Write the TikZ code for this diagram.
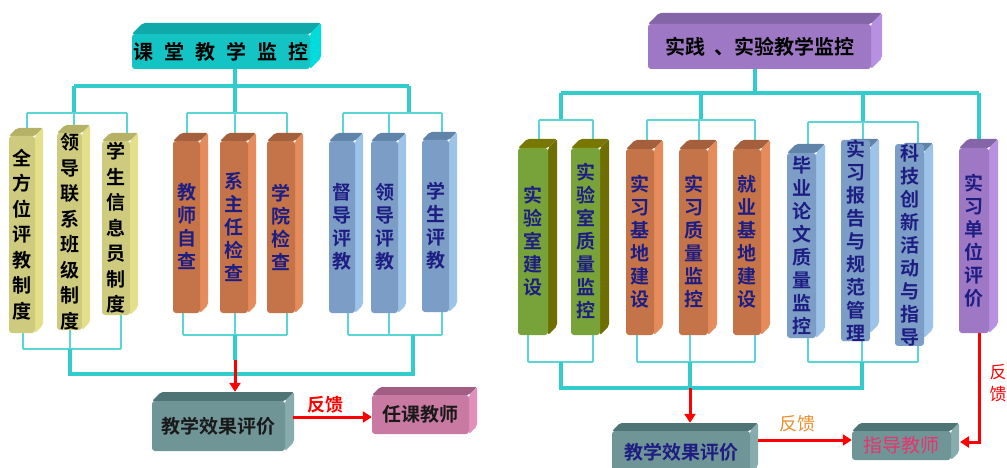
\documentclass[tikz,border=0pt]{standalone}
\usepackage{fontspec}
\setmainfont{Noto Sans CJK SC}[BoldFont={Noto Sans CJK SC Bold}]
\usetikzlibrary{arrows.meta}
\definecolor{cyF}{HTML}{14C3C3}\definecolor{cyS}{HTML}{00DCDC}\definecolor{cyT}{HTML}{10A8A8}
\definecolor{yeF}{HTML}{CFCB7E}\definecolor{yeS}{HTML}{E4E08A}\definecolor{yeT}{HTML}{B5B166}
\definecolor{orF}{HTML}{C5744A}\definecolor{orS}{HTML}{E68B5B}\definecolor{orT}{HTML}{A45F3D}
\definecolor{blF}{HTML}{7B9DC6}\definecolor{blS}{HTML}{9EC3E8}\definecolor{blT}{HTML}{6083AA}
\definecolor{grF}{HTML}{77A33A}\definecolor{grS}{HTML}{6E6F00}\definecolor{grT}{HTML}{787800}
\definecolor{puF}{HTML}{9E78C4}\definecolor{puS}{HTML}{B890E2}\definecolor{puT}{HTML}{8466A8}
\definecolor{teF}{HTML}{6F9597}\definecolor{teS}{HTML}{86ACAE}\definecolor{teT}{HTML}{4F7476}
\definecolor{pkF}{HTML}{C97AA2}\definecolor{pkS}{HTML}{E28FBC}\definecolor{pkT}{HTML}{A25E82}
\definecolor{lnK}{HTML}{33CCCC}\definecolor{lnN}{HTML}{5AD6D6}
\definecolor{navy}{HTML}{1E1E82}\definecolor{fbO}{HTML}{E8902C}\definecolor{zdP}{HTML}{E8336E}
\pgfdeclarelayer{bg}\pgfsetlayers{bg,main}
\newcommand{\tdbox}[9]{%
 \pgfmathsetmacro\tdW{#4-#2-#6}%
 \pgfmathsetmacro\tdH{#5-#3-#6}%
 \pgfmathsetmacro\tdX{(#2+#4-#6)/2}%
 \pgfmathsetmacro\tdY{(#3+#6+#5)/2}%
 \fill[#7T, rounded corners=2pt] (#2,#3+#6) -- (#2+#6,#3) -- (#4,#3) -- (#4-#6,#3+#6) -- cycle;
 \fill[#7S, rounded corners=2pt] (#4-#6,#3+#6) -- (#4,#3) -- (#4,#5-#6) -- (#4-#6,#5) -- cycle;
 \node[name=#1, fill=#7F, rounded corners=3pt, inner sep=0pt, minimum width=\tdW pt, minimum height=\tdH pt, #8] at (\tdX,\tdY) {#9};
}
\tikzset{
 vt/.style={align=center, font=\fontsize{19}{23}\selectfont\bfseries, text=navy},
 vty/.style={align=center, font=\fontsize{19}{25.5}\selectfont\bfseries, text=black},
 ttl/.style={font=\fontsize{20}{24}\selectfont\bfseries, text=black},
 hz/.style={font=\fontsize{19}{23}\selectfont\bfseries, text=black!90},
 hzn/.style={font=\fontsize{19}{23}\selectfont\bfseries, text=navy},
 hzp/.style={font=\fontsize{19}{23}\selectfont, text=zdP},
 thk/.style={draw=lnK, line width=4pt},
 thn/.style={draw=lnN, line width=1.5pt},
 rarr/.style={draw=red, line width=3pt, -{Triangle[length=9pt,width=11pt]}},
}
\begin{document}
\begin{tikzpicture}[x=1pt,y=-1pt]
\useasboundingbox (0,0) rectangle (1007,468);
\clip (0,0) rectangle (1007,468);
\begin{pgfonlayer}{bg}
\fill[white] (0,0) rectangle (1007,468);
\end{pgfonlayer}
% ---------- left boxes
\tdbox{TL}{132}{23}{321}{69}{11}{cy}{ttl}{课\hspace{11pt}堂\hspace{11pt}教\hspace{11pt}学\hspace{11pt}监\hspace{11pt}控}
\tdbox{Y1}{9}{128}{43}{333}{8}{ye}{vty}{全\\方\\位\\评\\教\\制\\度}
\tdbox{Y2}{57}{125}{90}{330}{8}{ye}{vty}{领\\导\\联\\系\\班\\级\\制\\度}
\tdbox{Y3}{102}{133}{138}{315}{8}{ye}{vty}{学\\生\\信\\息\\员\\制\\度}
\tdbox{O1}{173}{133}{208}{313}{8}{or}{vt}{教\\师\\自\\查}
\tdbox{O2}{220}{133}{256}{313}{8}{or}{vt}{系\\主\\任\\检\\查}
\tdbox{O3}{267}{133}{303}{313}{8}{or}{vt}{学\\院\\检\\查}
\tdbox{B1}{329}{133}{363}{313}{8}{bl}{vt}{督\\导\\评\\教}
\tdbox{B2}{371}{133}{406}{313}{8}{bl}{vt}{领\\导\\评\\教}
\tdbox{B3}{422}{132}{457}{312}{8}{bl}{vt}{学\\生\\评\\教}
\tdbox{TeL}{152}{392}{294}{451}{9}{te}{hz}{教学效果评价}
\tdbox{PkL}{372}{387}{477}{434}{8}{pk}{hz}{任课教师}
% ---------- right boxes
\tdbox{TR}{648}{13}{882}{69}{11}{pu}{ttl}{实践\hspace{9pt}、实验教学监控}
\tdbox{G1}{518}{139}{557}{335}{9}{gr}{vt}{实\\验\\室\\建\\设}
\tdbox{G2}{571}{139}{609}{335}{9}{gr}{vt}{实\\验\\室\\质\\量\\监\\控}
\tdbox{O4}{626}{140}{663}{335}{9}{or}{vt}{实\\习\\基\\地\\建\\设}
\tdbox{O5}{679}{140}{717}{335}{9}{or}{vt}{实\\习\\质\\量\\监\\控}
\tdbox{O6}{733}{140}{770}{335}{9}{or}{vt}{就\\业\\基\\地\\建\\设}
\tdbox{BL4}{787}{144}{825}{338}{9}{bl}{vt}{毕\\业\\论\\文\\质\\量\\监\\控}
\tdbox{BL5}{841}{139}{879}{333}{9}{bl}{vt}{实\\习\\报\\告\\与\\规\\范\\管\\理}
\tdbox{BL6}{895}{143}{933}{338}{9}{bl}{vt}{科\\技\\创\\新\\活\\动\\与\\指\\导}
\tdbox{P}{959}{139}{998}{333}{9}{pu}{vt}{实\\习\\单\\位\\评\\价}
\tdbox{TeR}{612}{423}{758}{474}{8}{te}{hzn}{教学效果评价}
\tdbox{ZD}{852}{423}{959}{460}{8}{te}{hzp}{指导教师}
% ---------- coordinates
\coordinate (l0) at (235,86); \coordinate (l1) at (74,86); \coordinate (l3) at (409,86);
\coordinate (g1) at (74,113); \coordinate (g2) at (235,113); \coordinate (g3) at (409,113);
\coordinate (a1) at (27,113); \coordinate (a2) at (74,113); \coordinate (a3) at (127,113);
\coordinate (a4) at (187,113); \coordinate (a5) at (235,113); \coordinate (a6) at (287,113);
\coordinate (a7) at (343,113); \coordinate (a8) at (389,113); \coordinate (a9) at (442,113);
\coordinate (b1) at (23,349); \coordinate (b2) at (70,349); \coordinate (b3) at (121,349);
\coordinate (c1) at (70,374); \coordinate (c3) at (413,374);
\coordinate (d1) at (183,335); \coordinate (d2) at (235,335); \coordinate (d3) at (287,335);
\coordinate (d4) at (235,360);
\coordinate (e1) at (348,335); \coordinate (e2) at (389,335); \coordinate (e3) at (442,335);
\coordinate (e4) at (413,335);
\coordinate (f1) at (293,417);
\coordinate (r0) at (755,93); \coordinate (r1) at (561,93); \coordinate (r4) at (979,93);
\coordinate (h1) at (561,120); \coordinate (h2) at (701,120); \coordinate (h3) at (863,122);
\coordinate (i1) at (539,120); \coordinate (i2) at (593,120);
\coordinate (j1) at (647,120); \coordinate (j2) at (699,120); \coordinate (j3) at (755,120);
\coordinate (k1) at (808,122); \coordinate (k2) at (863,122); \coordinate (k3) at (918,122);
\coordinate (m1) at (528,362); \coordinate (m2) at (593,362); \coordinate (m0) at (561,362);
\coordinate (n1) at (637,362); \coordinate (n2) at (690,362); \coordinate (n3) at (755,362);
\coordinate (o1) at (808,362); \coordinate (o2) at (862,362); \coordinate (o3) at (918,362);
\coordinate (s1) at (561,388); \coordinate (s2) at (690,388); \coordinate (s3) at (862,388);
\coordinate (u1) at (758,440);
\coordinate (q1) at (979,442); \coordinate (q2) at (960,442);
% ---------- connectors
\begin{pgfonlayer}{bg}
\draw[thk] (TL.south -| l0) -- (l0);
\draw[thk] (l1) -- (l3);
\draw[thk] (l1) -- (g1); \draw[thk] (l0) -- (g2); \draw[thk] (l3) -- (g3);
\draw[thn] (a1) -- (a3); \draw[thn] (a4) -- (a6); \draw[thn] (a7) -- (a9);
\draw[thn] (a1) -- (a1 |- Y1.north); \draw[thn] (a2) -- (a2 |- Y2.north); \draw[thn] (a3) -- (a3 |- Y3.north);
\draw[thn] (a4) -- (a4 |- O1.north); \draw[thn] (a5) -- (a5 |- O2.north); \draw[thn] (a6) -- (a6 |- O3.north);
\draw[thn] (a7) -- (a7 |- B1.north); \draw[thn] (a8) -- (a8 |- B2.north); \draw[thn] (a9) -- (a9 |- B3.north);
\draw[thn] (b1) -- (b3);
\draw[thn] (b1) -- (b1 |- Y1.south); \draw[thn] (b2) -- (b2 |- Y2.south); \draw[thn] (b3) -- (b3 |- Y3.south);
\draw[thn] (d1) -- (d3);
\draw[thn] (d1) -- (d1 |- O1.south); \draw[thn] (d2) -- (d2 |- O2.south); \draw[thn] (d3) -- (d3 |- O3.south);
\draw[thn] (e1) -- (e3);
\draw[thn] (e1) -- (e1 |- B1.south); \draw[thn] (e2) -- (e2 |- B2.south); \draw[thn] (e3) -- (e3 |- B3.south);
\draw[thk] (b2) -- (c1) -- (c3) -- (e4);
\draw[thk] (d2) -- (d4);
% right
\draw[thk] (TR.south -| r0) -- (r0);
\draw[thk] (r1) -- (r4);
\draw[thk] (r1) -- (h1); \draw[thk] (h2 |- r0) -- (h2); \draw[thk] (h3 |- r0) -- (h3);
\draw[thk] (r4) -- (r4 |- P.north);
\draw[thn] (i1) -- (i2); \draw[thn] (j1) -- (j3); \draw[thn] (k1) -- (k3);
\draw[thn] (i1) -- (i1 |- G1.north); \draw[thn] (i2) -- (i2 |- G2.north);
\draw[thn] (j1) -- (j1 |- O4.north); \draw[thn] (j2) -- (j2 |- O5.north); \draw[thn] (j3) -- (j3 |- O6.north);
\draw[thn] (k1) -- (k1 |- BL4.north); \draw[thn] (k2) -- (k2 |- BL5.north); \draw[thn] (k3) -- (k3 |- BL6.north);
\draw[thn] (m1) -- (m2); \draw[thn] (n1) -- (n3); \draw[thn] (o1) -- (o3);
\draw[thn] (m1) -- (m1 |- G1.south); \draw[thn] (m2) -- (m2 |- G2.south);
\draw[thn] (n1) -- (n1 |- O4.south); \draw[thn] (n2) -- (n2 |- O5.south); \draw[thn] (n3) -- (n3 |- O6.south);
\draw[thn] (o1) -- (o1 |- BL4.south); \draw[thn] (o2) -- (o2 |- BL5.south); \draw[thn] (o3) -- (o3 |- BL6.south);
\draw[thk] (m0) -- (s1) -- (s3) -- (o2);
\draw[thk] (n2) -- (s2);
\end{pgfonlayer}
% red arrows
\draw[rarr] (d4) -- ([yshift=9pt]TeL.north -| d4);
\draw[rarr] (f1) -- (f1 -| PkL.west);
\node[name=fb1, font=\fontsize{18}{22}\selectfont\bfseries, text=red] at (325,405) {反馈};
\draw[rarr] (s2) -- ([yshift=8pt]TeR.north -| s2);
\draw[rarr] (u1) -- (u1 -| ZD.west);
\node[name=fb2, font=\fontsize{18}{22}\selectfont, text=fbO] at (797,424) {反馈};
\draw[rarr] (P.south -| q1) -- (q1) -- (q2);
\node[name=fb3, align=center, font=\fontsize{17}{22}\selectfont, text=red] at (998,383) {反\\馈};
\end{tikzpicture}
\end{document}
